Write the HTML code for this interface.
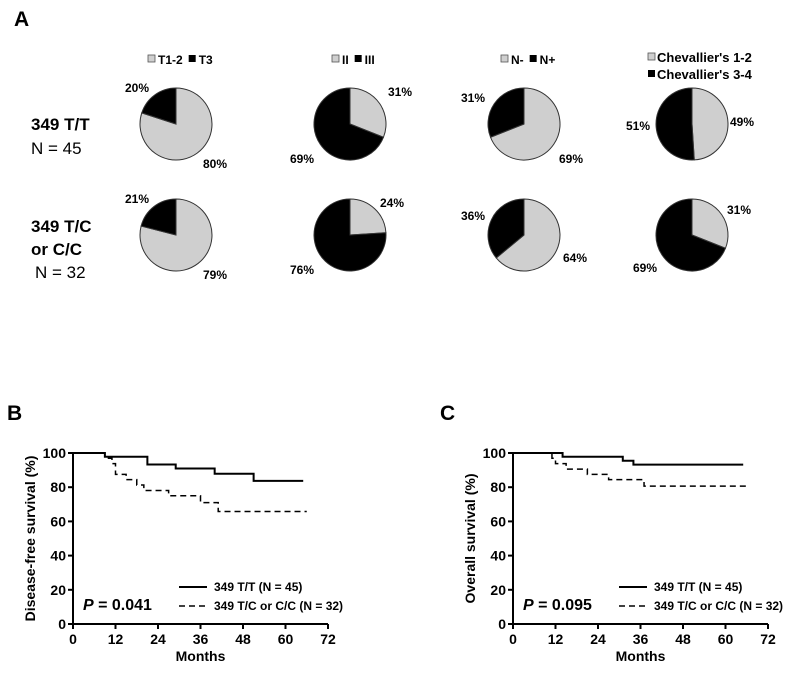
<!DOCTYPE html>
<html><head><meta charset="utf-8"><style>
body{margin:0;background:#fff;width:787px;height:668px;overflow:hidden;font-family:"Liberation Sans",Arial,sans-serif}
svg text{font-family:"Liberation Sans",Arial,sans-serif}
</style></head><body>
<svg id="s" width="787" height="668">
<text x="14" y="26" font-size="21" font-weight="bold">A</text>
<text x="7" y="420" font-size="21" font-weight="bold">B</text>
<text x="440" y="420" font-size="21" font-weight="bold">C</text>
<g font-size="17">
<text x="31" y="130" font-weight="bold">349 T/T</text>
<text x="31" y="134" dy="20">N = 45</text>
<text x="31" y="232" font-weight="bold">349 T/C</text>
<text x="31" y="255" font-weight="bold">or C/C</text>
<text x="35" y="278">N = 32</text>
</g>
<g id="pies"></g>
<g id="km"></g>
</svg>
<script>
// Pie data (gray share %, black share %)
const pieGray = [[80,31,69,49],[79,24,64,31]];
const pieBlack = [[20,69,31,51],[21,76,36,69]];
const legends = [["T1-2","T3"],["II","III"],["N-","N+"],["Chevallier's 1-2","Chevallier's 3-4"]];
const NS="http://www.w3.org/2000/svg";
const svg=document.getElementById('s');
function mk(t,a,p){const e=document.createElementNS(NS,t);for(const k in a)e.setAttribute(k,a[k]);(p||svg).appendChild(e);return e;}
const cx=[176,350,524,692], cy=[124,235], R=36;
const pg=document.getElementById('pies');
const lblG=[[[203,168],[388,96],[559,163],[730,126]],[[203,279],[380,207],[563,262],[727,214]]];
const lblB=[[[125,92],[290,163],[461,102],[626,130]],[[125,203],[290,274],[461,220],[633,272]]];
for(let r=0;r<2;r++)for(let c=0;c<4;c++){
  const g=pieGray[r][c]/100;const a=g*2*Math.PI;
  const x=cx[c],y=cy[r];
  const ex=x+R*Math.sin(a),ey=y-R*Math.cos(a);
  const w=mk('path',{d:`M${x},${y}L${x},${y-R}A${R},${R} 0 ${g>0.5?1:0} 1 ${ex},${ey}Z`,fill:'#cfcfcf',stroke:'#333','stroke-width':1},pg);
  
  
  const b=mk('path',{d:`M${x},${y}L${ex},${ey}A${R},${R} 0 ${g<0.5?1:0} 1 ${x},${y-R}Z`,fill:'#000',stroke:'#333','stroke-width':1},pg);
  
  
  const t1=mk('text',{x:lblG[r][c][0],y:lblG[r][c][1],'font-size':12,'font-weight':'bold'},pg);t1.textContent=pieGray[r][c]+'%';
  
  
  const t2=mk('text',{x:lblB[r][c][0],y:lblB[r][c][1],'font-size':12,'font-weight':'bold'},pg);t2.textContent=pieBlack[r][c]+'%';
  
  
}
// legends
const legPos=[[148,64,"h"],[332,64,"h"],[501,64,"h"],[648,62,"v"]];
for(let c=0;c<4;c++){
  const [lx,ly,m]=legPos[c];
  const g=mk('g',{'font-size':12,'font-weight':'bold'},pg);
  
  
  if(m==="h"){
    mk('rect',{x:lx,y:ly-9,width:7,height:7,fill:'#cfcfcf',stroke:'#555','stroke-width':0.8},g);
    const t=mk('text',{x:lx+10,y:ly},g);t.textContent=legends[c][0];
    const w=t.getComputedTextLength();
    mk('rect',{x:lx+10+w+6,y:ly-9,width:7,height:7,fill:'#000'},g);
    const t2=mk('text',{x:lx+10+w+16,y:ly},g);t2.textContent=legends[c][1];
  }else{
    g.setAttribute('font-size','13');
    mk('rect',{x:lx,y:ly-9,width:7,height:7,fill:'#cfcfcf',stroke:'#555','stroke-width':0.8},g);
    mk('text',{x:lx+9,y:ly},g).textContent=legends[c][0];
    mk('rect',{x:lx,y:ly+8,width:7,height:7,fill:'#000'},g);
    mk('text',{x:lx+9,y:ly+17},g).textContent=legends[c][1];
  }
}
// KM data: step times and survival values
const bTTtimes=[0,9,21,29,40,51,65];
const bTTvals=[100,97.8,93.3,90.9,87.9,83.7,83.7];
const bTCtimes=[0,9,11,12,15,18,20,27,36,41,66];
const bTCvals=[100,96.9,93.8,87.5,84.4,81.3,78.1,75,71,65.8,65.8];
const cTTtimes=[0,14,31,34,65];
const cTTvals=[100,97.8,95.5,93.2,93.2];
const cTCtimes=[0,11,12,15,21,27,37,66];
const cTCvals=[100,96.9,93.8,90.6,87.5,84.4,80.6,80.6];
const xTicks=[0,12,24,36,48,60,72];
const yTicks=[0,20,40,60,80,100];
const km=document.getElementById('km');
function panel(x0,ytitle,pval,s1t,s1v,s2t,s2v,name){
  const x1=x0+255,yTop=453,yBot=624;
  const X=v=>x0+(v/72)*(x1-x0), Y=v=>yBot-(v/100)*(yBot-yTop);
  const g=mk('g',{},km);
  
  
  mk('line',{x1:x0,y1:yTop,x2:x0,y2:yBot,stroke:'#000','stroke-width':2},g);
  mk('line',{x1:x0,y1:yBot,x2:x1,y2:yBot,stroke:'#000','stroke-width':2},g);
  yTicks.forEach(v=>{mk('line',{x1:x0-5,y1:Y(v),x2:x0,y2:Y(v),stroke:'#000','stroke-width':2},g);
    const t=mk('text',{x:x0-7,y:Y(v)+5,'text-anchor':'end','font-size':14,'font-weight':'bold'},g);t.textContent=v;});
  xTicks.forEach(v=>{mk('line',{x1:X(v),y1:yBot,x2:X(v),y2:yBot+5,stroke:'#000','stroke-width':2},g);
    const t=mk('text',{x:X(v),y:yBot+20,'text-anchor':'middle','font-size':14,'font-weight':'bold'},g);t.textContent=v;});
  const xt=mk('text',{x:(x0+x1)/2,y:661,'text-anchor':'middle','font-size':14,'font-weight':'bold'},g);xt.textContent='Months';
  
  
  const yt=mk('text',{transform:`translate(${x0-38},${(yTop+yBot)/2}) rotate(-90)`,'text-anchor':'middle','font-size':14,'font-weight':'bold'},g);yt.textContent=ytitle;
  
  
  function step(ts,vs,dash){let d=`M${X(ts[0])},${Y(vs[0])}`;for(let i=1;i<ts.length;i++){d+=`H${X(ts[i])}V${Y(vs[i])}`;}
    const p=mk('path',{d,fill:'none',stroke:'#000','stroke-width':dash?1.5:2,'stroke-dasharray':dash?'6,4':'none'},g);return p;}
  const p1=step(s1t,s1v,false);
  const p2=step(s2t,s2v,true);
  const lg=mk('g',{'font-size':12,'font-weight':'bold'},g);
  
  
  mk('line',{x1:x0+106,y1:587,x2:x0+134,y2:587,stroke:'#000','stroke-width':2},lg);
  mk('text',{x:x0+134+7,y:591},lg).textContent='349 T/T (N = 45)';
  mk('line',{x1:x0+106,y1:606,x2:x0+134,y2:606,stroke:'#000','stroke-width':1.5,'stroke-dasharray':'6,4'},lg);
  mk('text',{x:x0+134+7,y:610},lg).textContent='349 T/C or C/C  (N = 32)';
  const pt=mk('text',{x:x0+10,y:610,'font-size':16,'font-weight':'bold'},g);
  pt.innerHTML='<tspan font-style="italic">P</tspan> = '+pval;
  
  
}
panel(73,'Disease-free survival (%)','0.041',bTTtimes,bTTvals,bTCtimes,bTCvals,'dfs-chart');
panel(513,'Overall survival (%)','0.095',cTTtimes,cTTvals,cTCtimes,cTCvals,'os-chart');
</script>
</body></html>
